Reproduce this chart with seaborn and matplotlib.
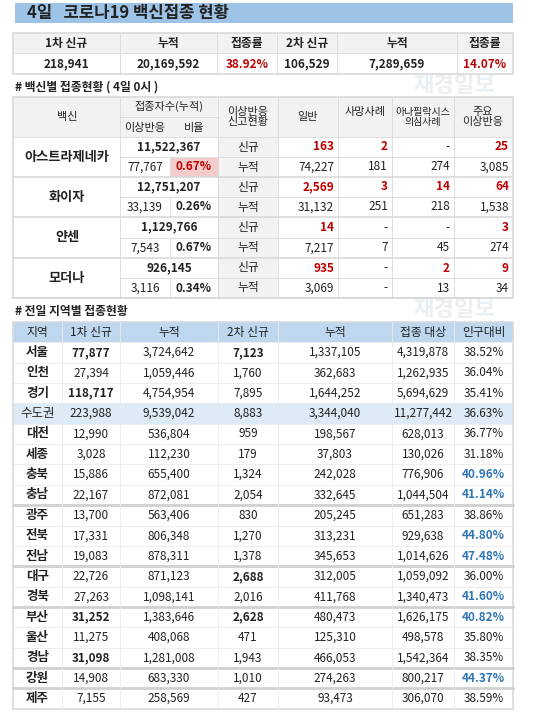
import matplotlib
matplotlib.use("Agg")
import matplotlib.pyplot as plt
from matplotlib.patches import Rectangle
import seaborn as sns

sns.set_theme(style="white")
plt.rcParams['font.family'] = ['Noto Sans CJK KR', 'DejaVu Sans']

# ---- data ----
title = "4일   코로나19 백신접종 현황"
sum_headers = ["1차 신규", "누적", "접종률", "2차 신규", "누적", "접종률"]
sum_values = ["218,941", "20,169,592", "38.92%", "106,529", "7,289,659", "14.07%"]

vaccines = ["아스트라제네카", "화이자", "얀센", "모더나"]
vac_total = ["11,522,367", "12,751,207", "1,129,766", "926,145"]
vac_adverse = ["77,767", "33,139", "7,543", "3,116"]
vac_ratio = ["0.67%", "0.26%", "0.67%", "0.34%"]
vac_new = [["163", "2", "-", "25"], ["2,569", "3", "14", "64"],
           ["14", "-", "-", "3"], ["935", "-", "2", "9"]]
vac_cum = [["74,227", "181", "274", "3,085"], ["31,132", "251", "218", "1,538"],
           ["7,217", "7", "45", "274"], ["3,069", "-", "13", "34"]]

reg_headers = ["지역", "1차 신규", "누적", "2차 신규", "누적", "접종 대상", "인구대비"]
regions = ["서울", "인천", "경기", "수도권", "대전", "세종", "충북", "충남", "광주", "전북",
           "전남", "대구", "경북", "부산", "울산", "경남", "강원", "제주"]
first_new = ["77,877", "27,394", "118,717", "223,988", "12,990", "3,028", "15,886", "22,167",
             "13,700", "17,331", "19,083", "22,726", "27,263", "31,252", "11,275", "31,098",
             "14,908", "7,155"]
first_cum = ["3,724,642", "1,059,446", "4,754,954", "9,539,042", "536,804", "112,230", "655,400",
             "872,081", "563,406", "806,348", "878,311", "871,123", "1,098,141", "1,383,646",
             "408,068", "1,281,008", "683,330", "258,569"]
second_new = ["7,123", "1,760", "7,895", "8,883", "959", "179", "1,324", "2,054", "830", "1,270",
              "1,378", "2,688", "2,016", "2,628", "471", "1,943", "1,010", "427"]
second_cum = ["1,337,105", "362,683", "1,644,252", "3,344,040", "198,567", "37,803", "242,028",
              "332,645", "205,245", "313,231", "345,653", "312,005", "411,768", "480,473",
              "125,310", "466,053", "274,263", "93,473"]
target = ["4,319,878", "1,262,935", "5,694,629", "11,277,442", "628,013", "130,026", "776,906",
          "1,044,504", "651,283", "929,638", "1,014,626", "1,059,092", "1,340,473", "1,626,175",
          "498,578", "1,542,364", "800,217", "306,070"]
ratio = ["38.52%", "36.04%", "35.41%", "36.63%", "36.77%", "31.18%", "40.96%", "41.14%", "38.86%",
         "44.80%", "47.48%", "36.00%", "41.60%", "40.82%", "35.80%", "38.35%", "44.37%", "38.59%"]

fig = plt.figure(figsize=(5.5, 7.18), dpi=100)
ax = fig.add_axes([0, 0, 1, 1])
ax.set_xlim(0, 550)
ax.set_ylim(718, 0)
ax.axis("off")

RED = "#C00000"
BLUE = "#2E75B6"
GRID = "#D9D9D9"
FS = 8.5

def rect(x0, y0, x1, y1, fc, ec="none", lw=0.6):
    ax.add_patch(Rectangle((x0, y0), x1 - x0, y1 - y0, facecolor=fc, edgecolor=ec, lw=lw))

def txt(x, y, s, color="#222222", bold=False, ha="center", fs=FS):
    ax.text(x, y, s, ha=ha, va="center", color=color, fontsize=fs,
            fontweight="bold" if bold else "normal", linespacing=1.1)

def hline(y, x0, x1, c=GRID, lw=0.6):
    ax.plot([x0, x1], [y, y], color=c, lw=lw)

def vline(x, y0, y1, c=GRID, lw=0.6):
    ax.plot([x, x], [y0, y1], color=c, lw=lw)

# watermarks
for wy in (85, 309):
    ax.text(455, wy, "재경일보", ha="center", va="center", fontsize=16, fontweight="bold",
            color="#C9D7E3", alpha=0.4, zorder=0)

# title bar
rect(15, 3, 513, 23, "#9DC3E6")
txt(27, 13, title, bold=True, ha="left", fs=12)

# summary
sx = [13, 120, 217, 277, 337, 457, 513]
rect(13, 33, 513, 53, "#F2F2F2")
rect(13, 33, 513, 74, "none", ec=GRID, lw=1.2)
hline(53, 13, 513)
for x in sx[1:-1]:
    vline(x, 33, 74)
for i in range(6):
    cx = (sx[i] + sx[i + 1]) / 2
    txt(cx, 43, sum_headers[i], bold=True)
    txt(cx, 64, sum_values[i], color=RED if i in (2, 5) else "#222222", bold=True)

# vaccine table
txt(15, 87, "# 백신별 접종현황 ( 4일 0시 )", bold=True, ha="left")
vx = [13, 120, 170, 218, 278, 338, 392, 454, 513]
top, hb = 97, 137
rect(13, top, 513, hb, "#F2F2F2")
rect(218, hb, 278, 298, "#F2F2F2")
rect(13, top, 513, 298, "none", ec=GRID, lw=1.2)
hline(hb, 13, 513)
hline(117, 120, 218)
for x in [120, 218, 278, 338, 392, 454]:
    vline(x, top, 298)
txt(67, 117, "백신", fs=8)
txt(169, 106, "접종자수(누적)", fs=8)
txt(145, 128, "이상반응", fs=8)
txt(194, 128, "비율", fs=8)
txt(248, 117, "이상반응\n신고현황", fs=8)
txt(308, 117, "일반", fs=8)
txt(365, 112, "사망사례", fs=8)
txt(423, 117, "아나필락시스\n의심사례", fs=7.2)
txt(483, 117, "주요\n이상반응", fs=8)
rowy = [137, 177, 217, 258, 298]
for k, v in enumerate(vaccines):
    y0, y1 = rowy[k], rowy[k + 1]
    ym = (y0 + y1) / 2
    hline(y1, 13, 513, lw=1.2)
    hline(ym, 120, 513)
    vline(170, ym, y1)
    if k == 0:
        rect(170.5, ym + 0.5, 217.5, y1 - 0.5, "#F4CCCC")
    txt(67, ym, v, bold=True, fs=9.5)
    txt(169, (y0 + ym) / 2, vac_total[k], bold=True)
    ya = (ym + y1) / 2
    txt(145, ya, vac_adverse[k])
    txt(194, ya, vac_ratio[k], color=RED if k == 0 else "#222222", bold=True)
    txt(248, (y0 + ym) / 2, "신규")
    txt(248, ya, "누적")
    for j in range(4):
        xr = vx[j + 5] - 4
        s = vac_new[k][j]
        txt(xr, (y0 + ym) / 2, s, color=RED if s != "-" else "#222222",
            bold=s != "-", ha="right")
        txt(xr, ya, vac_cum[k][j], ha="right")

# region table
txt(15, 311, "# 전일 지역별 접종현황", bold=True, ha="left")
rx = [13, 62, 120, 218, 278, 392, 454, 513]
rt, rh = 322, 20.35
rect(13, rt, 513, rt + rh, "#BDD7EE")
for i, h in enumerate(reg_headers):
    txt((rx[i] + rx[i + 1]) / 2, rt + rh / 2, h)
group_before = {"광주", "대구", "부산", "강원", "제주"}
bold_cells = {("서울", 1), ("서울", 3), ("경기", 1), ("대구", 3), ("부산", 1), ("부산", 3),
              ("경남", 1)}
for r, reg in enumerate(regions):
    y0 = rt + rh * (r + 1)
    ym = y0 + rh / 2
    if reg == "수도권":
        rect(13, y0, 513, y0 + rh, "#DDEBF7")
    if reg in group_before:
        hline(y0, 13, 513, c="#D0D0D0", lw=2)
    else:
        hline(y0, 13, 513, c="#EBEBEB")
    vals = [reg, first_new[r], first_cum[r], second_new[r], second_cum[r], target[r], ratio[r]]
    for c, s in enumerate(vals):
        cx = (rx[c] + rx[c + 1]) / 2
        color = "#222222"
        b = (reg, c) in bold_cells or (c == 0 and reg != "수도권")
        if c == 6 and float(s.strip("%")) >= 40:
            color, b = BLUE, True
        txt(cx, ym, s, color=color, bold=b, fs=9 if c == 0 else FS)
rb = rt + rh * 19
for x in rx[1:-1]:
    vline(x, rt, rb, c="#EBEBEB")
rect(13, rt, 513, rb, "none", ec=GRID, lw=1.2)

fig.savefig("out.png", dpi=100, facecolor="white")
